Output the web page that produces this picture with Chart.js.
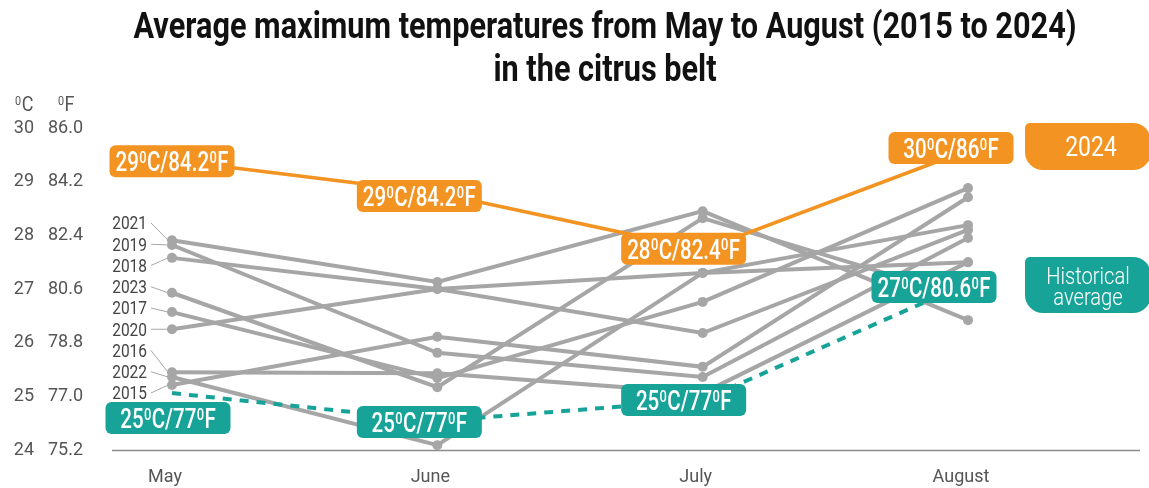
<!DOCTYPE html>
<html>
<head>
<meta charset="utf-8">
<script src="https://cdn.jsdelivr.net/npm/chart.js@4.4.1/dist/chart.umd.min.js"></script>
<style>
  html, body { margin: 0; padding: 0; background: #fff; }
</style>
</head>
<body>
<canvas id="chart" width="1149" height="488"></canvas>
<script>
// data
const months = ['May', 'June', 'July', 'August'];
const years = ['2021', '2019', '2018', '2023', '2017', '2020', '2016', '2022', '2015'];
const t2021 = [27.91, 27.13, 28.45, 26.42];
const t2019 = [27.82, 25.81, 25.36, 27.95];
const t2018 = [27.58, 27.00, 26.18, 28.10];
const t2023 = [26.93, 25.17, 28.32, 26.83];
const t2017 = [26.57, 25.34, 26.76, 28.88];
const t2020 = [26.25, 27.00, 27.30, 27.50];
const t2016 = [25.45, 25.43, 25.06, 27.50];
const t2022 = [25.36, 24.09, 27.30, 28.19];
const t2015 = [25.21, 26.11, 25.55, 28.71];
const t2024 = [29.40, 28.79, 27.73, 29.59];
const tAverage = [25.06, 24.54, 24.93, 27.11];
const labels2024 = ['29⁰C/84.2⁰F', '29⁰C/84.2⁰F', '28⁰C/82.4⁰F', '30⁰C/86⁰F'];
const labelsAverage = ['25⁰C/77⁰F', '25⁰C/77⁰F', '25⁰C/77⁰F', '27⁰C/80.6⁰F'];
const celsiusTicks = [24, 25, 26, 27, 28, 29, 30];
const fahrenheitTicks = [75.2, 77.0, 78.8, 80.6, 82.4, 84.2, 86.0];

const yearSeries = [t2021, t2019, t2018, t2023, t2017, t2020, t2016, t2022, t2015];

const GREY = '#a6a6a6';
const ORANGE = '#f39422';
const TEAL = '#17a398';

// text with superscript zeros, squeezed horizontally to look condensed
function drawRich(ctx, text, x, y, size, color, sx, weight, align) {
    const parts = text.split('⁰');
    const big = `${weight} ${size}px Roboto`;
    const small = `${weight} ${Math.round(size * 0.62)}px Roboto`;
    let w = 0;
    parts.forEach((p, i) => {
        ctx.font = big; w += ctx.measureText(p).width;
        if (i < parts.length - 1) { ctx.font = small; w += ctx.measureText('0').width + 1; }
    });
    ctx.save();
    ctx.translate(x, y);
    ctx.scale(sx, 1);
    ctx.fillStyle = color;
    ctx.textAlign = 'left';
    ctx.textBaseline = 'alphabetic';
    let cur = align === 'right' ? -w : align === 'left' ? 0 : -w / 2;
    const base = size * 0.36;
    parts.forEach((p, i) => {
        ctx.font = big; ctx.fillText(p, cur, base); cur += ctx.measureText(p).width;
        if (i < parts.length - 1) {
            ctx.font = small; ctx.fillText('0', cur + 0.5, base - size * 0.3);
            cur += ctx.measureText('0').width + 1;
        }
    });
    ctx.restore();
}

function drawTag(ctx, text, cx, cy, color) {
    ctx.fillStyle = color;
    ctx.beginPath();
    ctx.roundRect(cx - 62.5, cy - 16, 125, 32, 6);
    ctx.fill();
    drawRich(ctx, text, cx, cy, 27, '#fff', 0.76, 500);
}

const decor = {
    id: 'decor',
    beforeDatasetsDraw(chart) {
        const { ctx, chartArea } = chart;
        ctx.save();
        ctx.strokeStyle = '#8c8c8c';
        ctx.lineWidth = 1.5;
        ctx.beginPath();
        ctx.moveTo(112, chartArea.bottom + 0.5);
        ctx.lineTo(1140, chartArea.bottom + 0.5);
        ctx.stroke();
        ctx.restore();
    },
    afterDatasetsDraw(chart) {
        const ctx = chart.ctx;

        // title
        ctx.save();
        ctx.font = 'bold 36px Roboto';
        const line1 = 'Average maximum temperatures from May to August (2015 to 2024)';
        const sx = 943 / ctx.measureText(line1).width;
        ctx.fillStyle = '#111';
        ctx.textAlign = 'center';
        ctx.textBaseline = 'middle';
        ctx.translate(605, 0);
        ctx.scale(sx, 1);
        ctx.fillText(line1, 0, 29);
        ctx.fillText('in the citrus belt', 0, 72);
        ctx.restore();

        // unit headers above the two tick columns
        drawRich(ctx, '⁰C', 24, 104, 20, '#555', 0.9, 400);
        drawRich(ctx, '⁰F', 66, 104, 20, '#555', 0.9, 400);

        // year names with leader lines
        years.forEach((yr, i) => {
            const pt = chart.getDatasetMeta(i).data[0];
            const ly = 223 + i * 21.25;
            ctx.save();
            ctx.strokeStyle = GREY;
            ctx.lineWidth = 1;
            ctx.beginPath();
            ctx.moveTo(151, ly);
            ctx.lineTo(pt.x - 4, pt.y);
            ctx.stroke();
            ctx.restore();
            drawRich(ctx, yr, 147, ly, 18, '#444', 0.86, 400, 'right');
        });

        // value tags
        const avgMeta = chart.getDatasetMeta(years.length);
        const hiMeta = chart.getDatasetMeta(years.length + 1);
        const avgOff = [[-4, 25], [-18, 1], [-19, 0], [-34, 4]];
        const hiOff = [[0, 1], [-18, 3], [-19, -1], [-17, -2]];
        avgMeta.data.forEach((pt, i) => drawTag(ctx, labelsAverage[i], pt.x + avgOff[i][0], pt.y + avgOff[i][1], TEAL));
        hiMeta.data.forEach((pt, i) => drawTag(ctx, labels2024[i], pt.x + hiOff[i][0], pt.y + hiOff[i][1], ORANGE));

        // series boxes on the right
        ctx.fillStyle = ORANGE;
        ctx.beginPath();
        ctx.roundRect(1025, 123, 126, 47, [5, 18, 18, 18]);
        ctx.fill();
        drawRich(ctx, '2024', 1091, 146, 28, '#fff', 0.82, 400);
        ctx.fillStyle = TEAL;
        ctx.beginPath();
        ctx.roundRect(1025, 257, 126, 56, [5, 18, 18, 18]);
        ctx.fill();
        drawRich(ctx, 'Historical', 1088, 275, 24, '#fff', 0.84, 300);
        drawRich(ctx, 'average', 1088, 296, 24, '#fff', 0.84, 300);
    }
};

const datasets = yearSeries.map((vals, i) => ({
    label: years[i],
    data: vals,
    borderColor: GREY,
    backgroundColor: GREY,
    borderWidth: 4,
    pointRadius: 5,
    pointBorderWidth: 0,
    pointBackgroundColor: GREY,
    order: 2
}));
datasets.push({
    label: 'Historical average',
    data: tAverage,
    borderColor: TEAL,
    borderWidth: 4,
    borderDash: [9, 8],
    pointRadius: 0,
    order: 1
});
datasets.push({
    label: '2024',
    data: t2024,
    borderColor: ORANGE,
    borderWidth: 3.5,
    pointRadius: 0,
    order: 0
});

const tickFont = { family: 'Roboto', size: 18 };

// the wide tick padding of the °F column must not eat vertical room
function fitColumn(width) {
    return s => {
        s.width = width;
        s.paddingTop = 10;
        s.paddingBottom = 10;
    };
}

new Chart(document.getElementById('chart'), {
    type: 'line',
    data: { labels: months, datasets },
    options: {
        responsive: false,
        devicePixelRatio: 1,
        animation: false,
        layout: { padding: { top: 128, right: 181, left: 0, bottom: 0 } },
        plugins: { legend: { display: false }, title: { display: false }, tooltip: { enabled: false } },
        scales: {
            x: {
                offset: false,
                grid: { display: false, drawTicks: false },
                border: { display: false },
                ticks: { color: '#555', font: tickFont, padding: 17, labelOffset: -7 },
                afterFit: s => { s.height = 38; }
            },
            y: {
                position: 'left',
                weight: 1,
                min: 24,
                max: 30,
                grid: { display: false, drawTicks: false },
                border: { display: false },
                afterBuildTicks: a => { a.ticks = celsiusTicks.map(v => ({ value: v })); },
                ticks: { color: '#555', font: tickFont, padding: 6, callback: v => String(v) },
                afterFit: fitColumn(40)
            },
            yF: {
                position: 'left',
                weight: 0,
                min: 75.2,
                max: 86.0,
                grid: { display: false, drawTicks: false },
                border: { display: false },
                afterBuildTicks: a => { a.ticks = fahrenheitTicks.map(v => ({ value: v })); },
                ticks: { color: '#555', font: tickFont, padding: 89, callback: v => v.toFixed(1) },
                afterFit: fitColumn(132)
            }
        }
    },
    plugins: [decor]
});
</script>
</body>
</html>
